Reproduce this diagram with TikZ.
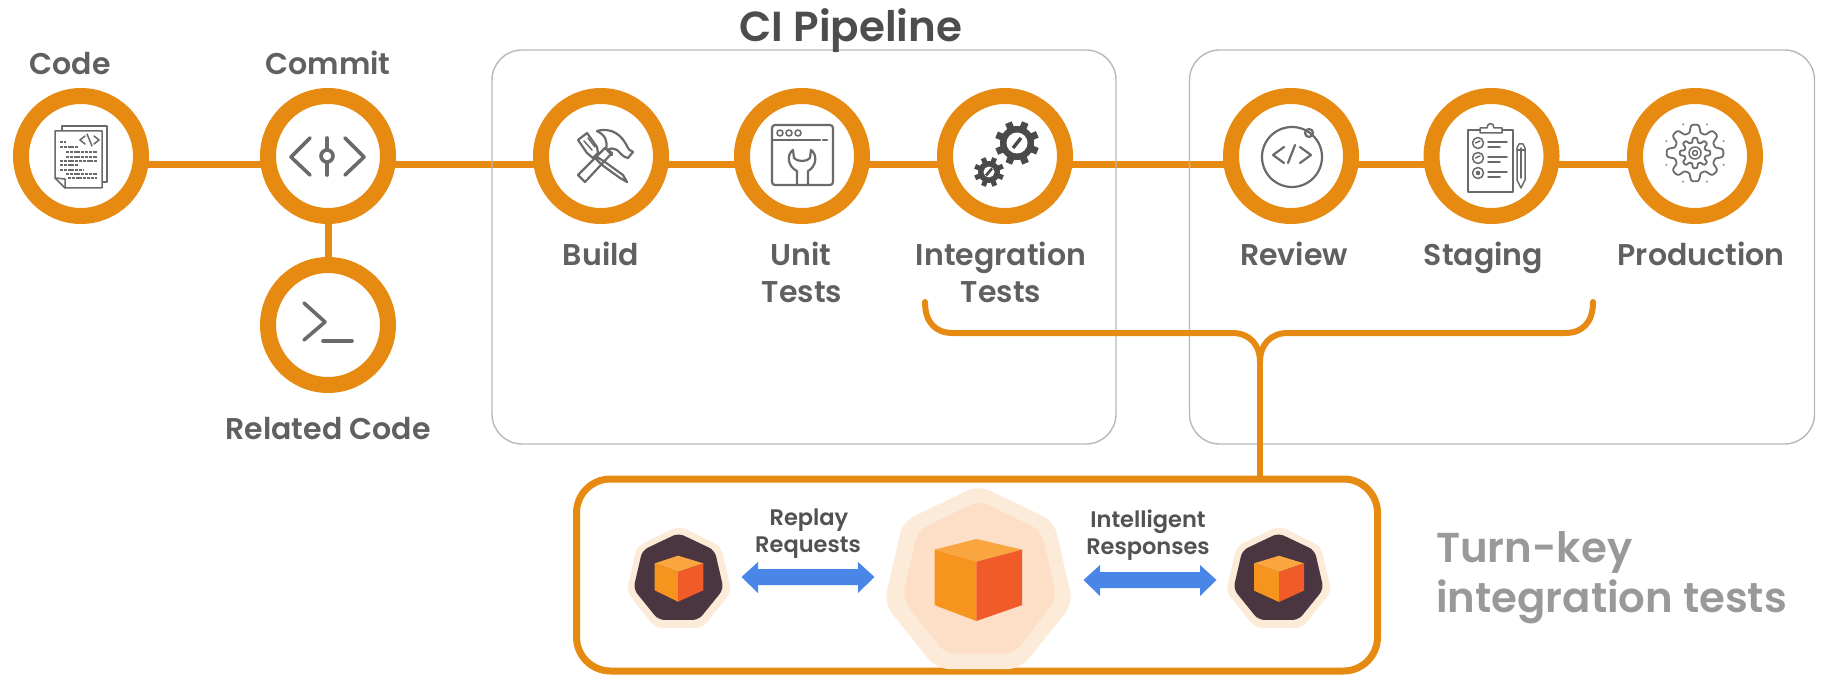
\documentclass[tikz,border=0pt]{standalone}
\usepackage{fontspec}
\setmainfont{Poppins}
\newfontfamily\popsb{Poppins SemiBold}
\newfontfamily\popmd{Poppins Medium}
\usetikzlibrary{backgrounds,calc}
\definecolor{ring}{HTML}{E68A12}
\definecolor{labelgray}{HTML}{5F6062}
\definecolor{icongray}{HTML}{6A6A6A}
\definecolor{boxgray}{HTML}{B8B8B8}
\definecolor{peachA}{HTML}{FDEBDA}
\definecolor{peachB}{HTML}{FCDFC6}
\definecolor{darkhept}{HTML}{4A3540}
\definecolor{cubeL}{HTML}{F7941D}
\definecolor{cubeR}{HTML}{F15A29}
\definecolor{cubeT}{HTML}{F9A540}
\definecolor{bluearrow}{HTML}{4A86E8}
\newcommand{\heptagon}[5]{% fill, x0, x1, y0, y1
  \pgfmathsetmacro{\hcx}{(#2+#3)/2}\pgfmathsetmacro{\hrx}{(#3-#2)/1.88}
  \pgfmathsetmacro{\hry}{(#5-#4)/1.86}\pgfmathsetmacro{\hcy}{#4+\hry*0.98}
  \fill[#1,rounded corners=0.07*(#3-#2)*1pt]
    (\hcx+\hrx*0,\hcy-\hry)
    -- (\hcx+\hrx*0.782,\hcy-\hry*0.623)
    -- (\hcx+\hrx*0.975,\hcy+\hry*0.223)
    -- (\hcx+\hrx*0.434,\hcy+\hry*0.901)
    -- (\hcx-\hrx*0.434,\hcy+\hry*0.901)
    -- (\hcx-\hrx*0.975,\hcy+\hry*0.223)
    -- (\hcx-\hrx*0.782,\hcy-\hry*0.623) -- cycle;}
\newcommand{\cube}[6]{% xl xc xr ytop ymid ybottom
  \pgfmathsetmacro{\cdy}{(#5-#4)*0.47}
  \pgfmathsetmacro{\cdb}{(#5-#4)*0.7}
  \fill[cubeT] (#2,#4) -- (#3,#4+\cdy) -- (#2,#5) -- (#1,#4+\cdy) -- cycle;
  \fill[cubeL] (#1,#4+\cdy) -- (#2,#5) -- (#2,#6) -- (#1,#6-\cdb) -- cycle;
  \fill[cubeR] (#3,#4+\cdy) -- (#2,#5) -- (#2,#6) -- (#3,#6-\cdb) -- cycle;}
\tikzset{
  stage/.style={circle,draw=ring,fill=white,line width=16pt,minimum size=120pt,inner sep=0pt,outer sep=0pt},
  link/.style={draw=ring,line width=7pt},
  brace/.style={draw=ring,line width=6pt},
  group/.style={draw=boxgray,line width=1.4pt,rounded corners=30pt,inner sep=0pt},
  lab/.style={font=\popsb\fontsize{30}{36}\selectfont,text=labelgray,anchor=base,inner sep=0pt},
  small/.style={font=\popsb\fontsize{22.5}{27}\selectfont,text=labelgray!85!black,anchor=base,inner sep=0pt},
  ico/.style={draw=icongray,line width=2.2pt,line join=round,line cap=round},
  icofine/.style={draw=icongray,line width=1.5pt,line join=round,line cap=round},
}
\begin{document}
\begin{tikzpicture}[x=1pt,y=-1pt]
\useasboundingbox (0,0) rectangle (1831,676);
% groups
\node[group,minimum width=624pt,minimum height=394pt] (ci) at (804,247) {};
\node[group,minimum width=625pt,minimum height=394pt] (cd) at (1502,247) {};
% stages
\node[stage] (code) at (81,156) {};
\node[stage] (commit) at (328,156) {};
\node[stage] (related) at (328,325) {};
\node[stage] (build) at (601,156) {};
\node[stage] (unit) at (802,156) {};
\node[stage] (integ) at (1005,156) {};
\node[stage] (review) at (1291,156) {};
\node[stage] (staging) at (1491.5,156) {};
\node[stage] (prod) at (1695,156) {};
\begin{pgfonlayer}{background}
\foreach \a/\b in {code/commit,commit/build,build/unit,unit/integ,integ/review,review/staging,staging/prod}
  \draw[link] ([yshift=-9pt]\a.center) -- ([yshift=-9pt]\b.center);
\draw[link] (commit) -- (related);
\end{pgfonlayer}
% labels
\node[lab] (lcode) at (70,75) {Code};
\node[lab] (lcommit) at (328,75) {Commit};
\node[lab] (lrelated) at (328,439) {Related Code};
\node[lab] (lbuild) at (601,266) {Build};
\node[lab] (lunit) at (801,266) {Unit};
\node[lab] (lunit2) at (802,302) {Tests};
\node[lab] (lint) at (1001,266) {Integration};
\node[lab] (lint2) at (1001,302) {Tests};
\node[lab] (lrev) at (1294,266) {Review};
\node[lab] (lstag) at (1483.5,266) {Staging};
\node[lab] (lprod) at (1701,266) {Production};
\node[lab,font=\popsb\fontsize{42}{50}\selectfont,text=labelgray!80!black] (title) at (851,42) {CI Pipeline};
\node[lab,font=\popsb\fontsize{41.8}{50}\selectfont,text=black!40,anchor=base west] (t1) at (1436,562) {Turn-key};
\node[lab,font=\popsb\fontsize{41.8}{50}\selectfont,text=black!40,anchor=base west] (t2) at (1436,612) {integration tests};
% lower box
\node[draw=ring,line width=7pt,rounded corners=34pt,minimum width=801pt,minimum height=192pt,inner sep=0pt] (tests) at (977,575) {};
% bracket
\coordinate (bl) at (925,302);
\coordinate (br) at (1593,302);
\coordinate (fork) at (1260,362);
\draw[brace,line cap=round] (bl) .. controls (925,322) and (935,333) .. (953,333) -- (1232,333) .. controls (1250,333) and (1260,345) .. (fork);
\draw[brace,line cap=round] (br) .. controls (1593,322) and (1583,333) .. (1565,333) -- (1288,333) .. controls (1270,333) and (1260,345) .. (fork);
\draw[brace] (fork) -- (fork |- tests.north);
% heptagons
\heptagon{peachA}{628.5}{729.5}{527}{627}
\heptagon{darkhept}{635}{722}{534}{619}
\cube{654.7}{678}{703.4}{555.7}{572}{601.7}
\heptagon{peachA}{887.5}{1069.5}{487}{667}
\heptagon{peachB}{905}{1054}{502}{652}
\cube{934.5}{976.4}{1022}{539}{561.7}{621}
\heptagon{peachA}{1228}{1329.4}{527}{627}
\heptagon{darkhept}{1235}{1322}{534}{619}
\cube{1254}{1279}{1304}{555.7}{572}{602}
% arrows
\fill[bluearrow] (741.5,577) -- (758,562) -- (758,569) -- (858,569) -- (858,562) -- (874.5,577) -- (858,593) -- (858,585) -- (758,585) -- (758,593) -- cycle;
\fill[bluearrow] (1083.5,580) -- (1100,565) -- (1100,572) -- (1200,572) -- (1200,565) -- (1216.5,580) -- (1200,596) -- (1200,588) -- (1100,588) -- (1100,596) -- cycle;
\node[small] (rp1) at (809,525) {Replay};
\node[small] (rp2) at (808,552) {Requests};
\node[small] (ir1) at (1148,527) {Intelligent};
\node[small] (ir2) at (1148,554) {Responses};
% --- icons
% code
\draw[icofine] (62,131) -- (62,126) -- (107,126) -- (107,182) -- (102,182);
\draw[icofine,fill=white] (55,131) -- (102,131) -- (102,188) -- (65,188) -- (55,178) -- cycle;
\draw[icofine] (55,178) -- (65,179) -- (65,188);
\draw[icofine] (85,144) -- (80,140) -- (85,136) (92,146) -- (87,134) (94,136) -- (99,140) -- (94,144);
\foreach \y/\a/\b in {142/60/66,147/60/78,152/66/97,157/66/97,161/60/97,165/60/78,170/60/84,174/66/97,178/68/97}
  \draw[icofine,line width=1.6pt,dash pattern=on 3pt off .8pt,line cap=butt] (\a,\y) -- (\b,\y);
% commit
\draw[ico,line width=3.6pt] (310,138) -- (291,157) -- (310,175);
\draw[ico,line width=3.6pt] (345,138) -- (364,157) -- (345,175);
\draw[ico,line width=3.6pt] (327,138) -- (327,150) (327,162) -- (327,175);
\draw[ico,line width=3.6pt] (327,156) circle (6);
% related
\draw[ico,line width=3.6pt] (304,303) -- (325,322) -- (304,340);
\draw[ico,line width=3.6pt] (323,341) -- (352,341);
% build
\draw[ico] (578,140) -- (587,133) -- (597,147) -- (598,153) -- (593,158) -- (587,153) -- cycle;
\draw[ico,line width=1.5pt] (584,141) -- (592,150) (588,138) -- (595,147);
\draw[ico] (597,157) -- (605,162) -- (623,175) -- (627,182) -- (620,178) -- (602,165) -- (595,158);
\draw[ico] (578,175) -- (605,148) -- (612,153) -- (585,182) -- cycle;
\draw[ico] (597,131) .. controls (612,127) and (622,135) .. (628,148) .. controls (630,152) and (633,150) .. (633,152) -- (628,158) .. controls (622,157) and (620,152) .. (617,150) .. controls (612,148) and (610,148) .. (607,150) -- (612,155) ;
\draw[ico] (597,131) .. controls (605,135) and (608,141) .. (606,149);
% unit tests
\draw[ico,rounded corners=3pt] (772,125) rectangle (833,185);
\draw[ico] (772,140) -- (820,140) (823,140) -- (827,140);
\foreach \x in {780,789,798} \draw[ico,line width=1.6pt] (\x,133) circle (3);
\draw[ico] (797,185) -- (797,171) .. controls (788,167) and (786,155) .. (793,150) -- (794,158) .. controls (797,162) and (807,162) .. (810,158) -- (811,150) .. controls (818,155) and (816,167) .. (808,171) -- (808,185);
% gears
\begin{scope}[shift={(1017,143)}]
\foreach \a in {0,45,...,315} \draw[icongray!70!black,line width=7pt] (\a+22:12) -- (\a+22:22);
\fill[icongray!70!black] (0,0) circle (17);
\fill[white] (0,0) circle (10.5);
\draw[icongray!70!black,line width=3.4pt] (-4,5) -- (4,-5);
\end{scope}
\begin{scope}[shift={(989,172)}]
\foreach \a in {0,45,...,315} \draw[icongray!70!black,line width=5pt] (\a+22:8) -- (\a+22:15);
\fill[icongray!70!black] (0,0) circle (11);
\fill[white] (0,0) circle (5.5);
\draw[icongray!70!black,line width=2.6pt] (-3,3.5) -- (3,-3.5);
\end{scope}
% review
\draw[ico] plot[domain=48:-338,samples=80,smooth] ({1292+30*cos(\x)},{157-30*sin(\x)});
\draw[ico] (1309,133) circle (4);
\draw[ico] (1284,147) -- (1273,155) -- (1284,163);
\draw[ico] (1300,147) -- (1311,155) -- (1300,163);
\draw[ico] (1295,145) -- (1288,163);
% staging
\draw[icofine] (1480,130) -- (1468,130) -- (1468,192) -- (1513,192) -- (1513,130) -- (1502,130);
\draw[icofine] (1480,133) -- (1480,128) -- (1487,128) .. controls (1487,122) and (1494,122) .. (1494,128) -- (1502,128) -- (1502,133) -- cycle;
\foreach \y in {143,158,173} {
  \draw[icofine] (1478,\y) circle (5.5);
  \draw[icofine] (1488,\y-1) -- (1507,\y-1) (1488,\y+4) -- (1500,\y+4);
}
\draw[icofine] (1475.5,143) -- (1480,141) (1475.5,158) -- (1480,156);
\fill[icongray] (1478,173) circle (2.3);
\draw[icofine] (1517,148) -- (1519,144) -- (1523,144) -- (1525,148) -- (1525,180) -- (1521,188) -- (1517,180) -- cycle;
\draw[icofine] (1521,148) -- (1521,178) (1517,150) -- (1525,150);
% production
\begin{scope}[shift={(1695,153)}]
\draw[icofine,line width=1.8pt] plot[domain=0:360,samples=241,smooth] (\x:{24.5+4*tanh(2*cos(8*\x))}) -- cycle;
\draw[icofine,line width=1.8pt] plot[domain=0:360,samples=241,smooth] (\x:{13+2.3*tanh(2*cos(8*\x))}) -- cycle;
\draw[icofine] (0,0) circle (6);
\draw[icofine] (0,0) circle (2.5);
\foreach \a in {22.5,67.5,...,337.5} \fill[icongray!70] (\a:31) circle (1.2);
\end{scope}
\end{tikzpicture}
\end{document}
